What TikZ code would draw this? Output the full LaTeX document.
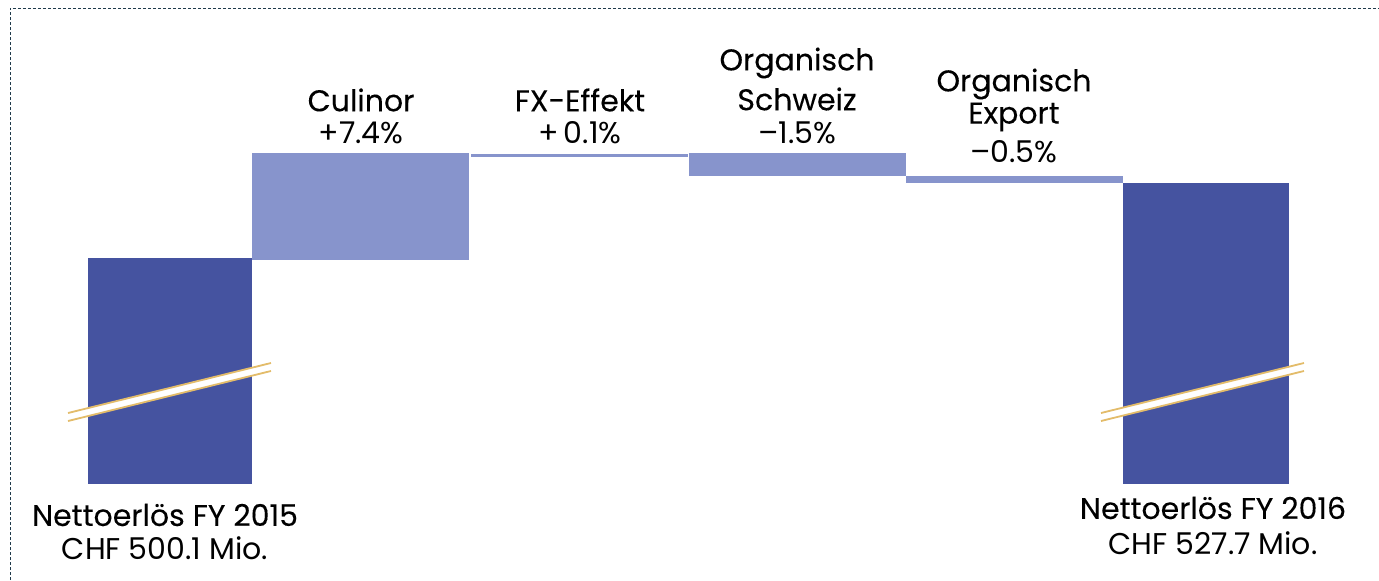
\documentclass[tikz,border=0pt]{standalone}
\usepackage{fontspec}
\setmainfont{Poppins}
\newfontfamily\medfont[FakeBold=0.15]{Poppins}
\newcommand{\mns}{–}
\definecolor{dark}{HTML}{4553A0}
\definecolor{light}{HTML}{8794CC}
\definecolor{gold}{HTML}{E3BC6A}
\definecolor{frame}{HTML}{1F3A4A}
\begin{document}
\begin{tikzpicture}[x=1pt,y=-1pt,
  lbl/.style={font=\fontsize{30}{34}\selectfont, align=center, inner sep=0pt, anchor=center},
  brk/.style={draw=gold, line width=1.8pt}]
\useasboundingbox (0,0) rectangle (1379,581);
\draw[frame, line width=1pt, dash pattern=on 3pt off 2pt] (10,600) -- (10,8) -- (1400,8);
% bars
\fill[dark] (88,258) rectangle (252,484);
\fill[light] (252,153) rectangle (469,260);
\fill[light] (471,153.5) rectangle (688,156.5);
\fill[light] (689,153) rectangle (906,176);
\fill[light] (906,176) rectangle (1123,183);
\fill[dark] (1123,183) rectangle (1289,484);
% breaks
\fill[white] (68,413) -- (271,363) -- (271,371) -- (68,421) -- cycle;
\draw[brk] (68,413) -- (271,363);
\draw[brk] (68,421) -- (271,371);
\fill[white] (1101,413) -- (1304,363) -- (1304,371) -- (1101,421) -- cycle;
\draw[brk] (1101,413) -- (1304,363);
\draw[brk] (1101,421) -- (1304,371);
% labels
\node[lbl] (cul) at (361,100) {\medfont Culinor};
\node[lbl] (culv) at (361,133) {+7.4\%};
\node[lbl] (fx) at (580,100) {\medfont FX-Effekt};
\node[lbl] (fxv) at (580,133) {+\,0.1\%};
\node[lbl] (os1) at (797,63) {\medfont Organisch};
\node[lbl] (os2) at (797,99) {\medfont Schweiz};
\node[lbl] (osv) at (797,133) {\mns1.5\%};
\node[lbl] (oe1) at (1014,84) {\medfont Organisch};
\node[lbl] (oe2) at (1014,117) {\medfont Export};
\node[lbl] (oev) at (1014,152) {\mns0.5\%};
\node[lbl] (n15) at (165,515) {\medfont Nettoerlös FY 2015};
\node[lbl] (c15) at (165,548) {CHF 500.1 Mio.};
\node[lbl] (n16) at (1213,508) {\medfont Nettoerlös FY 2016};
\node[lbl] (c16) at (1213,543) {CHF 527.7 Mio.};
\end{tikzpicture}
\end{document}
